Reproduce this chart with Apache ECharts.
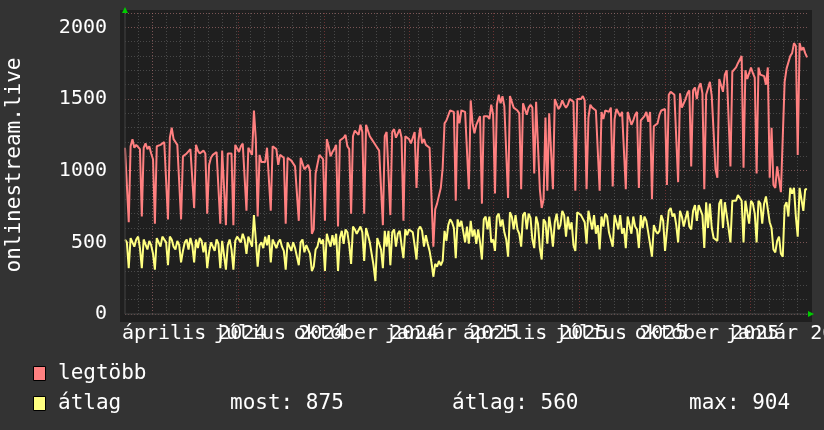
<!DOCTYPE html>
<html><head><meta charset="utf-8">
<script src="https://cdn.jsdelivr.net/npm/echarts@6/dist/echarts.min.js"></script>
<style>html,body{margin:0;padding:0;background:#333333;}#c{width:824px;height:430px;}</style>
</head><body><div id="c"></div>
<script>
// ---- data ----
const startDate = '2024-02-01';
const endDate = '2026-02-01';
const stepDays = 2;
const legtobb = [
1160,1150,640,1170,1220,1160,1180,1170,1150,680,1160,1190,1150,1170,1120,1080,630,1170,1160,1180,
1190,1200,1210,660,1230,1300,1220,1200,1180,1170,660,1100,1110,1120,1120,1150,1150,740,1180,1140,
1120,1130,1140,1120,700,1040,1090,1110,1110,1130,1130,630,1140,1150,620,1120,1110,1120,620,1180,1190,
1130,1170,1190,1180,720,1160,1170,1110,1420,1220,680,1110,1060,1050,1060,1160,1170,720,1170,1160,
1150,1040,1110,1100,1090,630,1090,1080,1070,1080,1030,1030,650,1090,1100,1010,1020,1040,1000,560,
590,980,990,1110,1100,1080,650,1220,1170,1100,1130,1150,1180,610,1210,1220,1230,1250,1170,1150,700,
1240,1280,1270,1250,1320,1270,700,1320,1330,1240,1220,1200,1190,1160,1140,1140,620,1240,1270,
1280,690,1270,1290,1230,1260,1290,1230,650,1240,1230,1220,1190,1230,1270,880,1210,1300,1190,1220,
1180,1170,1160,820,470,730,770,780,880,1020,1330,1350,1360,1420,1420,1410,790,1420,1330,1420,1420,1410,
1410,870,1490,1330,1260,1320,1350,1380,770,1380,1390,1380,1360,1460,1390,840,1460,1530,
1470,1520,1450,1440,810,1520,1530,1440,1430,1420,1400,870,1470,1480,1390,1440,1460,1440,980,1480,
1470,870,740,800,1370,860,1400,1390,870,1500,1510,1430,1450,1490,1460,1440,1460,1500,1500,1480,860,1500,1510,
1500,1520,1490,870,1370,1460,1440,1450,1420,1430,860,1410,1360,1420,1430,1410,
1440,890,1360,1430,1440,1380,1410,1400,870,1410,1420,1320,1350,1390,1410,880,1350,1360,1380,1410,
1340,1410,800,1310,1320,1330,1390,1420,1420,1430,900,1530,1550,1550,1530,1530,920,1540,1440,1470,
1500,1540,1560,1030,1560,
1580,1500,1580,1610,1540,870,1530,1530,1620,1520,1510,1010,950,1640,1650,
1550,1670,1700,1690,1030,1690,1680,1720,1750,1760,1800,1020,1700,1640,1640,1720,1680,1650,980,1720,
1670,1660,1660,1600,1720,950,1300,900,880,1030,1020,850,840,1620,1710,1720,1800,1820,1890,1870,
1110,1890,1840,1860,1820,1790
];
const atlag = [
520,500,320,530,540,470,520,540,460,320,520,530,450,510,480,420,310,530,540,470,
540,540,500,340,540,520,470,450,510,480,360,440,500,520,450,530,480,360,520,460,
530,510,430,500,320,430,500,510,440,520,490,320,510,500,310,480,520,450,310,510,540,
540,500,560,520,420,540,530,470,690,520,330,480,500,460,540,480,550,360,520,530,
460,500,520,470,440,310,500,510,440,500,460,450,340,500,520,430,480,470,420,300,
330,450,470,530,490,520,300,560,510,470,550,480,560,300,530,580,490,590,570,480,350,
610,590,560,550,610,570,370,600,590,500,420,340,230,530,530,450,320,580,470,
580,340,570,590,470,560,580,480,390,590,550,590,600,570,480,380,590,610,580,470,
550,490,440,360,260,350,330,370,340,370,580,510,620,660,640,600,390,660,610,650,640,500,
610,490,650,540,590,490,590,500,380,660,680,590,680,500,520,440,680,700,
610,660,570,520,400,710,680,590,690,590,560,470,690,710,590,700,670,520,460,680,
630,460,380,660,640,490,680,590,470,640,700,590,620,720,690,540,680,590,640,480,440,710,720,
690,700,640,490,720,720,590,690,560,620,450,680,610,700,680,570,
560,470,690,680,590,690,560,600,460,680,690,560,680,610,590,460,690,600,680,650,
570,560,400,620,580,560,580,690,650,440,430,720,740,680,700,620,500,720,680,610,
600,720,610,590,720,
760,650,760,770,690,460,780,600,770,600,530,530,510,770,800,
600,780,790,600,500,790,780,790,830,840,790,500,790,780,630,790,770,700,500,790,
770,630,770,820,730,640,600,450,430,510,540,420,400,750,780,680,880,840,880,680,
540,880,880,720,870,870
];
// major grid ticks (every 3 months); each label is centred half a period after its tick
const tickDates = ['2024-03-01','2024-06-01','2024-09-01','2024-12-01','2025-03-01','2025-06-01','2025-09-01','2025-12-01'];
const tickLabels = ['április 2024','július 2024','október 2024','január 2025','április 2025','július 2025','október 2025','január 2026'];
const labelShiftDays = 45;
const minorStepDays = 15;
const seriesNames = ['legtöbb','átlag'];
const seriesColors = ['#ff8080','#ffff80'];
const statTexts = ['most: 875','átlag: 560','max: 904'];
const yTitle = 'onlinestream.live';

// ---- helpers ----
const DAY = 86400000;
const t0 = Date.parse(startDate + 'T00:00:00Z');
const dayOff = d => Math.round((Date.parse(d + 'T00:00:00Z') - t0) / DAY);
const spanDays = dayOff(endDate);
const tickOffs = tickDates.map(dayOff);
const minorOffs = [];
for (let d = tickOffs[0] % minorStepDays; d <= spanDays; d += minorStepDays) minorOffs.push(d);
const toPairs = arr => arr.map((v, i) => [i * stepDays, v]);
const FONT = 'DejaVu Sans Mono';
const FONT21 = '21px "' + FONT + '"';

const chart = echarts.init(document.getElementById('c'), null, {renderer: 'canvas'});
const G = {left: 125, right: 16, top: 13, bottom: 116};
const baseGraphics = [
  {type: 'rect', z: -10, silent: true, shape: {x: 120, y: 10, width: 692, height: 312}, style: {fill: '#1f1f1f'}},
  {type: 'line', z: 10, shape: {x1: 125, y1: 314, x2: 125, y2: 10}, style: {stroke: '#444444', lineWidth: 1}},
  {type: 'line', z: 10, shape: {x1: 125, y1: 314, x2: 812, y2: 314}, style: {stroke: '#444444', lineWidth: 1}},
  {type: 'polygon', z: 11, shape: {points: [[125, 7], [122, 13], [128, 13]]}, style: {fill: '#00cc00'}},
  {type: 'polygon', z: 11, shape: {points: [[814, 314], [808, 311], [808, 317]]}, style: {fill: '#00cc00'}},
  {type: 'text', x: 15, y: 165, rotation: Math.PI / 2,
   style: {text: yTitle, fill: '#ffffff', font: FONT21, align: 'center', verticalAlign: 'middle'}},
  {type: 'rect', shape: {x: 33.5, y: 366.5, width: 12, height: 14}, style: {fill: seriesColors[0], stroke: '#000', lineWidth: 1}},
  {type: 'text', x: 58, y: 374, style: {text: seriesNames[0], fill: '#fff', font: FONT21, verticalAlign: 'middle'}},
  {type: 'rect', shape: {x: 33.5, y: 396.5, width: 12, height: 14}, style: {fill: seriesColors[1], stroke: '#000', lineWidth: 1}},
  {type: 'text', x: 58, y: 404, style: {text: seriesNames[1], fill: '#fff', font: FONT21, verticalAlign: 'middle'}},
  {type: 'text', x: 230, y: 404, style: {text: statTexts[0], fill: '#fff', font: FONT21, verticalAlign: 'middle'}},
  {type: 'text', x: 452, y: 404, style: {text: statTexts[1], fill: '#fff', font: FONT21, verticalAlign: 'middle'}},
  {type: 'text', x: 689, y: 404, style: {text: statTexts[2], fill: '#fff', font: FONT21, verticalAlign: 'middle'}}
];

chart.setOption({
  backgroundColor: '#333333',
  animation: false,
  grid: {left: G.left, right: G.right, top: G.top, bottom: G.bottom, containLabel: false},
  xAxis: [
    {type: 'value', min: 0, max: spanDays,
     axisLine: {show: false}, axisTick: {show: false, customValues: tickOffs}, axisLabel: {show: false},
     splitLine: {show: true, lineStyle: {color: 'rgba(224,80,80,0.40)', width: 1, type: [1, 2]}}},
    {type: 'value', min: 0, max: spanDays, show: true,
     axisLine: {show: false}, axisTick: {show: false, customValues: minorOffs}, axisLabel: {show: false},
     splitLine: {show: true, lineStyle: {color: 'rgba(150,150,150,0.35)', width: 1, type: [1, 2]}}}
  ],
  yAxis: [
    {type: 'value', min: 0, max: 2100, interval: 500,
     axisLine: {show: false}, axisTick: {show: false},
     axisLabel: {color: '#ffffff', fontFamily: FONT, fontSize: 20, margin: 18, showMaxLabel: false,
       formatter: v => String(v)},
     splitLine: {show: true, lineStyle: {color: 'rgba(224,80,80,0.40)', width: 1, type: [1, 2]}}},
    {type: 'value', min: 0, max: 2100, interval: 100,
     axisLine: {show: false}, axisTick: {show: false}, axisLabel: {show: false},
     splitLine: {show: true, lineStyle: {color: 'rgba(150,150,150,0.35)', width: 1, type: [1, 2]}}}
  ],
  graphic: baseGraphics,
  series: [
    {name: seriesNames[0], type: 'line', data: toPairs(legtobb), showSymbol: false, symbol: 'none',
     lineStyle: {color: seriesColors[0], width: 2}, itemStyle: {color: seriesColors[0]}, z: 3},
    {name: seriesNames[1], type: 'line', data: toPairs(atlag), showSymbol: false, symbol: 'none',
     lineStyle: {color: seriesColors[1], width: 2}, itemStyle: {color: seriesColors[1]}, z: 4}
  ]
});

// x-axis labels placed through the axis scale (not clamped, so the last one is cut by the page edge)
const labelGraphics = tickOffs.map((off, i) => {
  const px = chart.convertToPixel({xAxisIndex: 0}, off + labelShiftDays);
  return {type: 'text', x: px, y: 334,
    style: {text: tickLabels[i], fill: '#ffffff', font: '20px "' + FONT + '"', align: 'center', verticalAlign: 'middle'}};
});
chart.setOption({graphic: baseGraphics.concat(labelGraphics)});
</script></body></html>
